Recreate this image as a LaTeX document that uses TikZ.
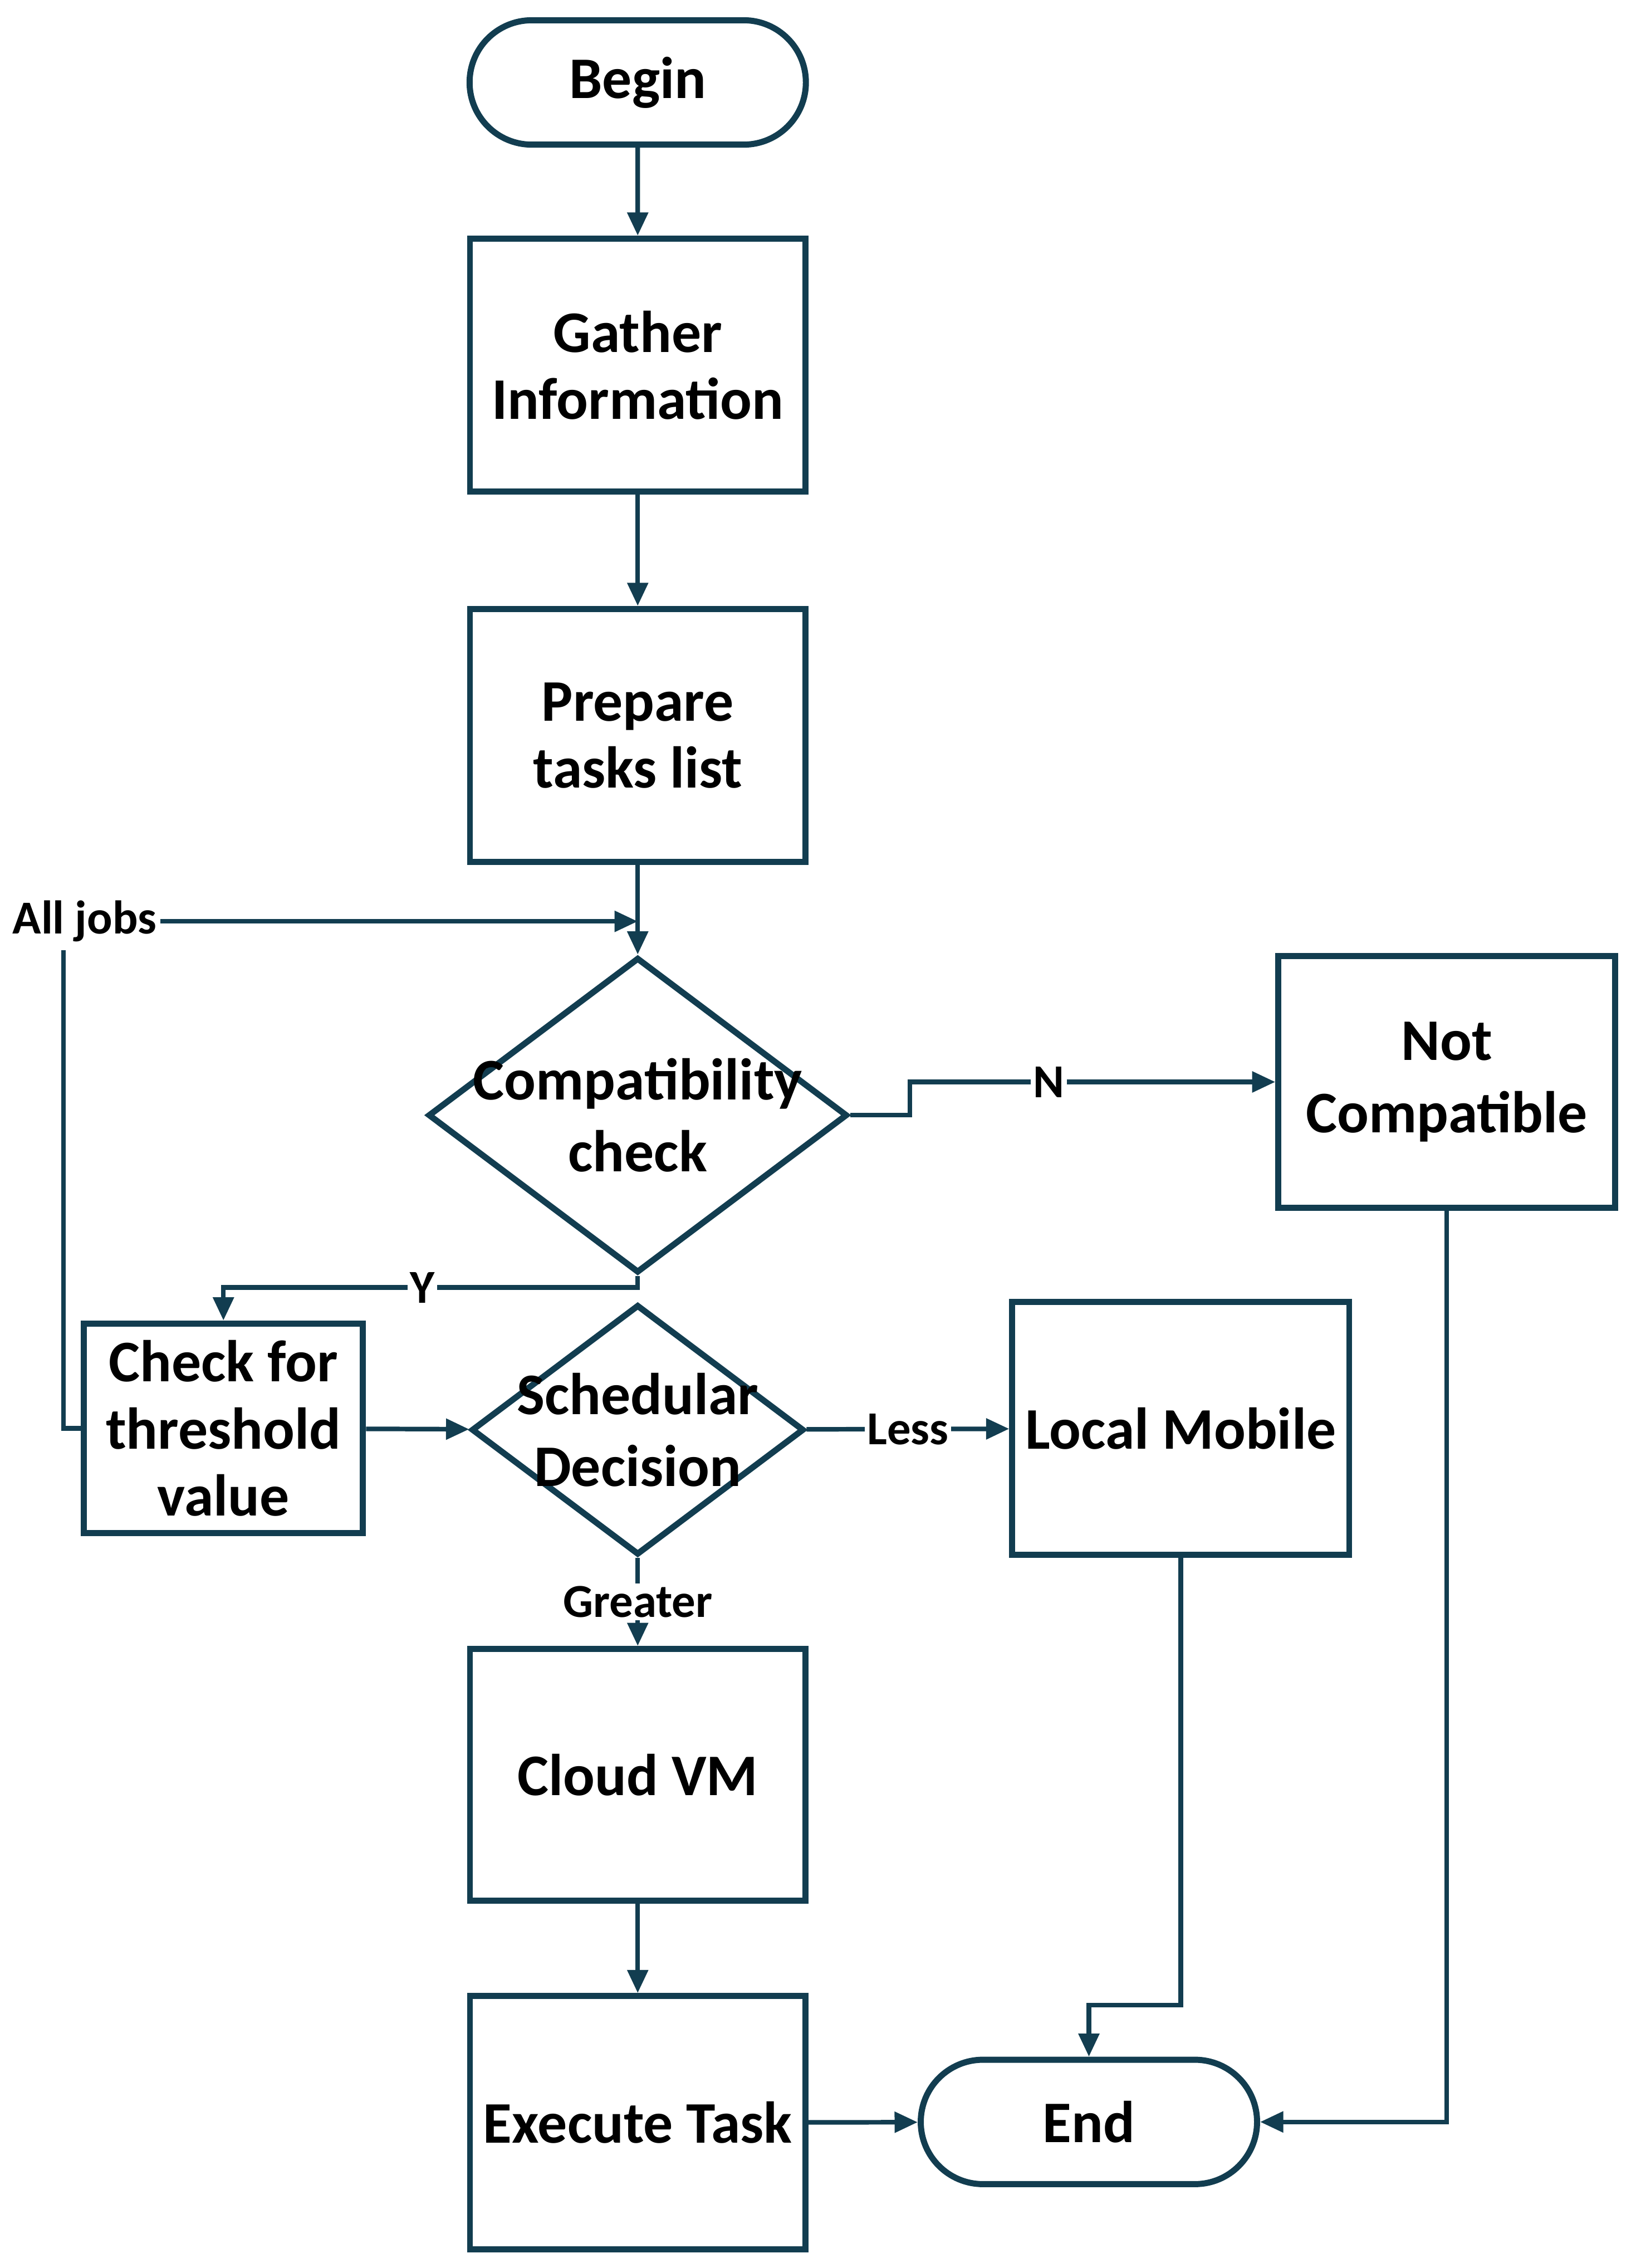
\documentclass[tikz,border=0pt]{standalone}
\usepackage{fontspec}
\setmainfont{Carlito}
\usetikzlibrary{shapes.geometric,shapes.misc,arrows.meta}
\definecolor{flowline}{RGB}{18,61,80}
\begin{document}
\begin{tikzpicture}[font=\fontsize{11.6}{13.2}\selectfont\bfseries,
  blk/.style={draw=flowline,line width=1.2pt,align=center,minimum width=2.32cm,minimum height=1.75cm,inner sep=1pt},
  term/.style={draw=flowline,line width=1.2pt,rounded rectangle,minimum width=2.56cm,minimum height=.86cm},
  dec/.style={draw=flowline,line width=1.2pt,diamond,align=center,inner sep=0pt},
  con/.style={draw=flowline,line width=.9pt},
  arr/.style={con,-{Triangle[length=1.6mm,width=1.4mm]}},
  lbl/.style={font=\fontsize{9.3}{11}\selectfont\bfseries,fill=white,inner sep=.5pt}]
\useasboundingbox (0,0) rectangle (11.31,-15.68);
% boxes
\node[term] (begin) at (4.41,-.57) {Begin};
\node[blk] (gather) at (4.41,-2.525) {Gather\\Information};
\node[blk] (prepare) at (4.41,-5.085) {Prepare\\tasks list};
\node[dec,minimum width=2.9cm,minimum height=2.18cm] (compat) at (4.41,-7.71) {\makebox[0pt]{Compatibility}\\[1pt]check};
\node[blk,minimum width=2.33cm,minimum height=1.74cm] (notcomp) at (10.005,-7.48) {Not\\[1pt]Compatible};
\node[blk,minimum width=1.93cm,minimum height=1.45cm] (check) at (1.545,-9.875) {Check for\\threshold\\value};
\node[dec,minimum width=2.3cm,minimum height=1.73cm] (sched) at (4.41,-9.885) {\makebox[0pt]{Schedular}\\[1pt]\makebox[0pt]{Decision}};
\node[blk,minimum width=2.33cm] (local) at (8.165,-9.875) {Local Mobile};
\node[blk,minimum height=1.74cm] (cloud) at (4.41,-12.27) {Cloud VM};
\node[blk] (exec) at (4.41,-14.675) {Execute Task};
\node[term] (end) at (7.53,-14.67) {End};
\node[lbl,fill=none] (alljobs) at (.585,-6.37) {All jobs};
\coordinate (join) at (4.41,-6.37); \coordinate (loop) at (.44,-6.57);
% connectors
\draw[arr] (begin) -- (gather); \draw[arr] (gather) -- (prepare); \draw[arr] (prepare) -- (compat);
\draw[arr] (alljobs) -- (join); \draw[con] (check.west) -| (loop);
\draw[arr] (compat.east) -- ++(.41,0) |- (notcomp.west) node[lbl,pos=.69] {N};
\draw[arr] (compat.south) -- ++(0,-.08) -| (check.north) node[lbl,pos=.26] {Y};
\draw[arr] (check) -- (sched);
\draw[arr] (sched) -- node[lbl] {Less} (local);
\draw[arr] (sched) -- node[lbl] {Greater} (cloud);
\draw[arr] (cloud) -- (exec); \draw[arr] (exec) -- (end);
\draw[arr] (local.south) -- ++(0,-3.09) -| (end.north);
\draw[arr] (notcomp.south) |- (end.east);
\end{tikzpicture}
\end{document}
